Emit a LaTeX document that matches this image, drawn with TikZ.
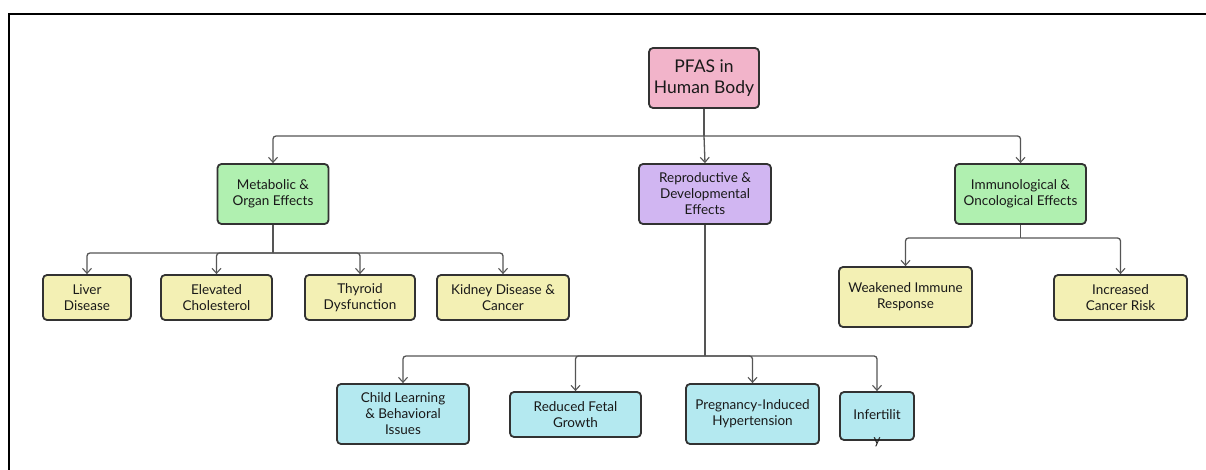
\documentclass[tikz,border=0pt]{standalone}
\usepackage{fontspec}
\setmainfont{Lato}
\usetikzlibrary{arrows.meta}
\definecolor{cpink}{RGB}{242,180,202}
\definecolor{cgreen}{RGB}{176,240,176}
\definecolor{cpurple}{RGB}{209,182,242}
\definecolor{cyellow}{RGB}{243,240,180}
\definecolor{ccyan}{RGB}{180,233,240}
\definecolor{cborder}{RGB}{50,50,50}
\definecolor{cline}{RGB}{85,85,85}
\tikzset{
  box/.style={draw=cborder, line width=1.8pt, rounded corners=4pt, align=center,
    inner sep=0pt, font=\fontsize{13.5}{16}\selectfont, text=black!90},
  conn/.style={draw=cline, line width=1.3pt, rounded corners=3pt},
  arr/.style={conn, -{Straight Barb[length=5pt,width=9pt,line width=1.1pt]}},
}
\begin{document}
\begin{tikzpicture}[x=1pt,y=-1pt]
\useasboundingbox (0,0) rectangle (1206,470);
\fill[white] (0,0) rectangle (1206,470);
\draw[line width=1.2pt, black] (1206,14) -- (9,14) -- (9,470);

% level 0
\node[box, fill=cpink, minimum width=110pt, minimum height=60pt,
  font=\fontsize{17.5}{21}\selectfont] (pfas) at (704,78) {PFAS in\\Human Body};

% level 1
\node[box, fill=cgreen, minimum width=111pt, minimum height=60pt] (meta) at (273,194) {Metabolic \&\\Organ Effects};
\node[box, fill=cpurple, minimum width=132pt, minimum height=60pt] (repro) at (705,194) {Reproductive \&\\Developmental\\Effects};
\node[box, fill=cgreen, minimum width=131pt, minimum height=60pt] (immuno) at (1020.5,194) {Immunological \&\\Oncological Effects};

% metabolic children
\node[box, fill=cyellow, minimum width=88pt, minimum height=45pt] (liver) at (87,297.5) {Liver\\Disease};
\node[box, fill=cyellow, minimum width=111pt, minimum height=45pt] (elev) at (216.5,297.5) {Elevated\\Cholesterol};
\node[box, fill=cyellow, minimum width=110pt, minimum height=45pt] (thyr) at (360,297.5) {Thyroid\\Dysfunction};
\node[box, fill=cyellow, minimum width=132pt, minimum height=45pt] (kid) at (503,297.5) {Kidney Disease \&\\Cancer};

% immuno children
\node[box, fill=cyellow, minimum width=133pt, minimum height=60pt] (weak) at (905.5,297) {Weakened Immune\\Response};
\node[box, fill=cyellow, minimum width=133pt, minimum height=45pt] (incr) at (1120.5,297.5) {Increased\\Cancer Risk};

% repro children
\node[box, fill=ccyan, minimum width=132pt, minimum height=60pt] (child) at (403,414) {Child Learning\\\& Behavioral\\Issues};
\node[box, fill=ccyan, minimum width=131pt, minimum height=45pt] (fetal) at (575.5,414.5) {Reduced Fetal\\Growth};
\node[box, fill=ccyan, minimum width=133pt, minimum height=60pt] (preg) at (752.5,414) {Pregnancy-Induced\\Hypertension};
\node[box, fill=ccyan, minimum width=74pt, minimum height=48pt] (inf) at (877,416) {};
\node[align=center, inner sep=0pt, font=\fontsize{13.5}{25}\selectfont, text=black!90] (inft) at (877,428) {Infertilit\\y};

% junctions
\coordinate (j0) at (704,136);
\coordinate (j1) at (273,253);
\coordinate (j2) at (1020.5,238);
\coordinate (j3) at (705,356);

\draw[conn] (pfas.south) -- (j0);
\draw[arr] (j0) -| (meta.north);
\draw[arr] (j0) -- (repro.north);
\draw[arr] (j0) -| (immuno.north);

\draw[conn] (meta.south) -- (j1);
\foreach \n in {liver,elev,thyr,kid} \draw[arr] (j1) -| (\n.north);

\draw[conn] (immuno.south) -- (j2);
\foreach \n in {weak,incr} \draw[arr] (j2) -| (\n.north);

\draw[conn] (repro.south) -- (j3);
\foreach \n in {child,fetal,preg,inf} \draw[arr] (j3) -| (\n.north);
\end{tikzpicture}
\end{document}
